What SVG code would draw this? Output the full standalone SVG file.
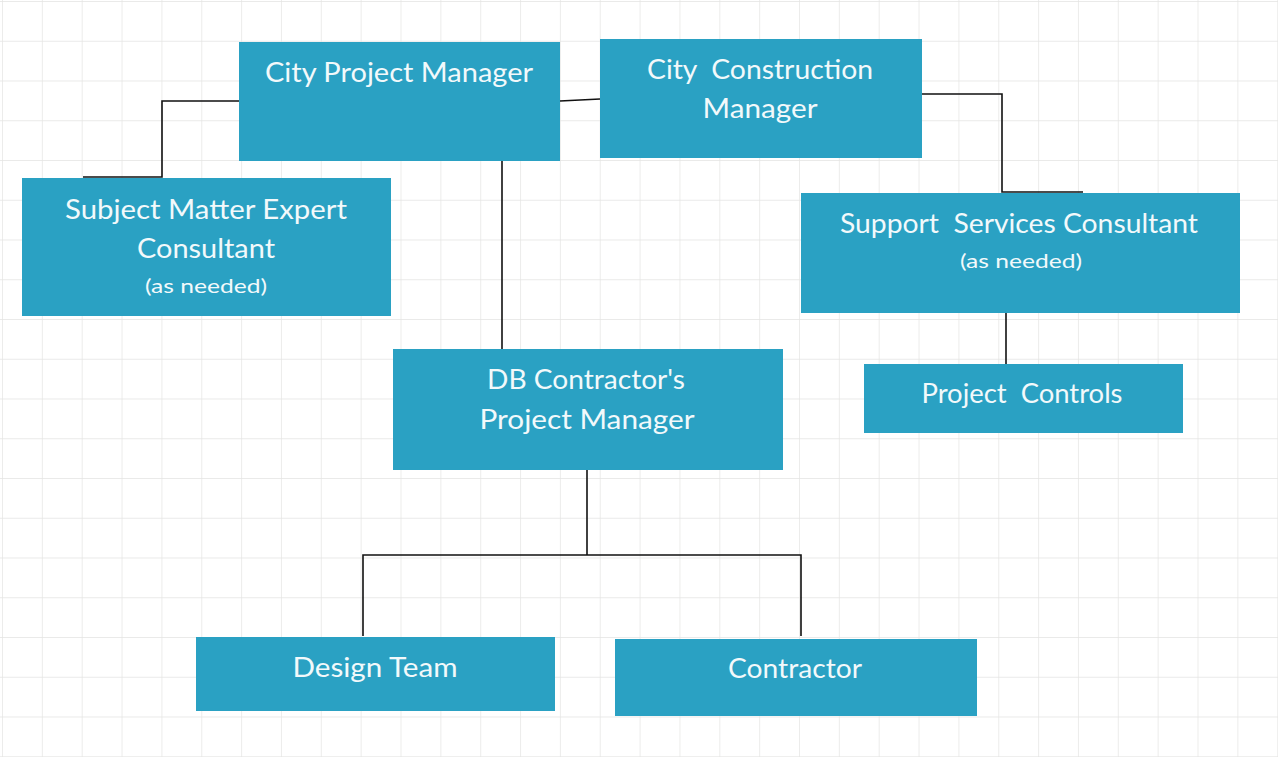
<svg xmlns="http://www.w3.org/2000/svg" width="1278" height="757" viewBox="0 0 1278 757">
  <defs>
    <pattern id="grid" x="2" y="1" width="39.85" height="39.75" patternUnits="userSpaceOnUse">
      <path d="M0 0 H39.85 M0 0 V39.75" fill="none" stroke="#e4e4e2" stroke-width="1.4"/>
    </pattern>
    <style>
      .box { fill: #2aa1c3; }
      .t { font-family: Lato, "Open Sans", "Liberation Sans", sans-serif; font-size: 26px; fill: #f2f9fb; text-anchor: middle; white-space: pre; }
      .s { font-size: 20px; }
      .c { font-family: "Liberation Sans Narrow", Lato, "Liberation Sans", sans-serif; }
      .ln { fill: none; stroke: #111; stroke-width: 1.6; }
    </style>
  </defs>
  <rect x="0" y="0" width="1278" height="757" fill="#ffffff"/>
  <rect x="0" y="0" width="1278" height="757" fill="url(#grid)"/>

  <g id="connectors">
    <polyline class="ln" points="239,101 162,101 162,177 83,177"/>
    <line class="ln" x1="560" y1="101" x2="600" y2="99"/>
    <polyline class="ln" points="918,94 1002,94 1002,192 1083,192"/>
    <line class="ln" x1="1006" y1="308" x2="1006" y2="365"/>
    <line class="ln" x1="502" y1="161" x2="502" y2="349"/>
    <polyline class="ln" points="587,470 587,555"/>
    <polyline class="ln" points="363,636 363,555 801,555 801,636"/>
  </g>

  <g id="city-project-manager">
    <rect class="box" x="239" y="42" width="321" height="119"/>
    <text class="t" x="399" y="82" textLength="268" lengthAdjust="spacingAndGlyphs">City Project Manager</text>
  </g>

  <g id="city-construction-manager">
    <rect class="box" x="600" y="39" width="322" height="119"/>
    <text class="t" x="760" y="79" textLength="226" lengthAdjust="spacingAndGlyphs">City  Construction</text>
    <text class="t" x="760" y="118" textLength="115" lengthAdjust="spacingAndGlyphs">Manager</text>
  </g>

  <g id="subject-matter-expert">
    <rect class="box" x="22" y="178" width="369" height="138"/>
    <text class="t" x="206" y="219" textLength="282" lengthAdjust="spacingAndGlyphs">Subject Matter Expert</text>
    <text class="t" x="206" y="258" textLength="138" lengthAdjust="spacingAndGlyphs">Consultant</text>
    <text class="t s" x="206" y="293" textLength="122" lengthAdjust="spacingAndGlyphs">(as needed)</text>
  </g>

  <g id="support-services-consultant">
    <rect class="box" x="801" y="193" width="439" height="120"/>
    <text class="t" x="1019" y="233" textLength="358" lengthAdjust="spacingAndGlyphs">Support  Services Consultant</text>
    <text class="t s" x="1021" y="268" textLength="122" lengthAdjust="spacingAndGlyphs">(as needed)</text>
  </g>

  <g id="project-controls">
    <rect class="box" x="864" y="364" width="319" height="69"/>
    <text class="t" x="1022" y="403" textLength="201" lengthAdjust="spacingAndGlyphs">Project  Controls</text>
  </g>

  <g id="db-contractor-pm">
    <rect class="box" x="393" y="349" width="390" height="121"/>
    <text class="t" x="586" y="389" textLength="198" lengthAdjust="spacingAndGlyphs">DB Contractor's</text>
    <text class="t" x="587" y="429" textLength="215" lengthAdjust="spacingAndGlyphs">Project Manager</text>
  </g>

  <g id="design-team">
    <rect class="box" x="196" y="637" width="359" height="74"/>
    <text class="t" x="375" y="677" textLength="165" lengthAdjust="spacingAndGlyphs">Design Team</text>
  </g>

  <g id="contractor">
    <rect class="box" x="615" y="639" width="362" height="77"/>
    <text class="t" x="795" y="678" textLength="134" lengthAdjust="spacingAndGlyphs">Contractor</text>
  </g>
</svg>
